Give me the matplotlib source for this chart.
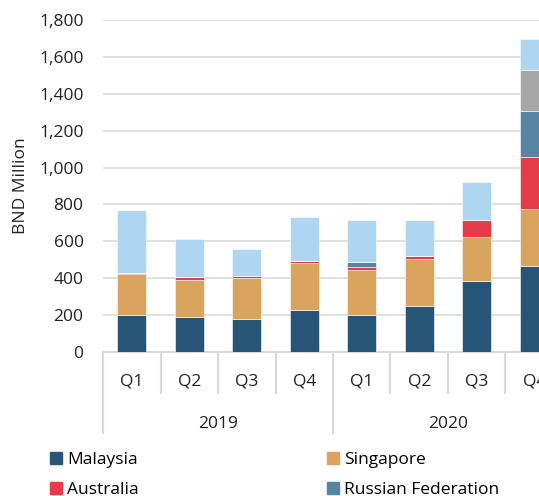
import numpy as np
import matplotlib
matplotlib.use("Agg")
import matplotlib.pyplot as plt
from matplotlib.patches import Patch
import matplotlib.transforms as mtransforms

plt.rcParams['font.family'] = ['Open Sans', 'DejaVu Sans']

# Dados (BND milhões)
quarters = ["Q1", "Q2", "Q3", "Q4", "Q1", "Q2", "Q3", "Q4"]
years = ["2019", "2020"]
malaysia = [201, 192, 181, 230, 199, 248, 384, 467]
singapore = [223, 199, 218, 250, 248, 254, 237, 310]
australia = [7, 17, 14, 15, 13, 18, 93, 281]
russia = [0, 0, 0, 0, 29, 0, 0, 248]
grey_series = [0, 0, 0, 0, 0, 0, 0, 221]
light_blue = [337, 204, 143, 237, 227, 194, 206, 170]

series = [
    ("Malaysia", malaysia, "#265578"),
    ("Singapore", singapore, "#D8A45E"),
    ("Australia", australia, "#E63C4A"),
    ("Russian Federation", russia, "#5784A3"),
    (None, grey_series, "#A6A6A6"),
    (None, light_blue, "#AED6F1"),
]

FS = 12.5
W, H = 539, 496
AXW, AXH = 460.0, 332.0
fig = plt.figure(figsize=(W / 100, H / 100), dpi=100)
ax = fig.add_axes([103 / W, 144 / H, AXW / W, AXH / H])

x = np.arange(len(quarters))
bottom = np.zeros(len(quarters))
for name, vals, col in series:
    vals = np.array(vals, dtype=float)
    ax.bar(x, vals, width=0.5, bottom=bottom, color=col, edgecolor="white", linewidth=0.4, zorder=3)
    bottom += vals

ax.set_xlim(-0.5, len(quarters) - 0.5)
ax.set_ylim(0, 1800)
ax.set_yticks(np.arange(0, 1801, 200))
ax.set_yticklabels([f"{v:,}" for v in range(0, 1801, 200)])
ax.yaxis.grid(True, color="#D9D9D9", linewidth=1.2, zorder=0)
ax.tick_params(axis="y", length=0, labelsize=FS, colors="#222222", pad=14)
ax.set_xticks([])
for s in ["top", "right", "left"]:
    ax.spines[s].set_visible(False)
ax.spines["bottom"].set_color("#D9D9D9")
ax.spines["bottom"].set_linewidth(1.5)
ax.set_ylabel("BND Million", fontsize=FS, color="#222222")
ax.yaxis.set_label_coords(-(103 - 29) / AXW, 0.5)

# eixo x em dois níveis
trans = mtransforms.blended_transform_factory(ax.transData, ax.transAxes)
for i, q in enumerate(quarters):
    ax.text(i, -29 / AXH, q, transform=trans, ha="center", va="center", fontsize=FS, color="#222222")
for i in range(len(quarters) + 1):
    ystop = -81 / AXH if i % 4 == 0 else -41 / AXH
    ax.plot([i - 0.5, i - 0.5], [0, ystop], transform=trans, color="#D9D9D9", lw=1.5, clip_on=False)
for j, yr in enumerate(years):
    ax.text(j * 4 + 1.5, -72 / AXH, yr, transform=trans, ha="center", va="center", fontsize=FS, color="#222222")

handles = [Patch(color=col, label=name) for name, _, col in series if name]
order = [0, 2, 1, 3]
fig.legend([handles[k] for k in order], [handles[k].get_label() for k in order],
           ncol=2, loc="upper left", bbox_to_anchor=(50 / W, 1 - 452 / H),
           frameon=False, fontsize=FS, handlelength=0.69, handleheight=0.69,
           handletextpad=0.3, columnspacing=10.85, labelspacing=0.8,
           borderpad=0, borderaxespad=0)

fig.savefig("out.png", dpi=100)
